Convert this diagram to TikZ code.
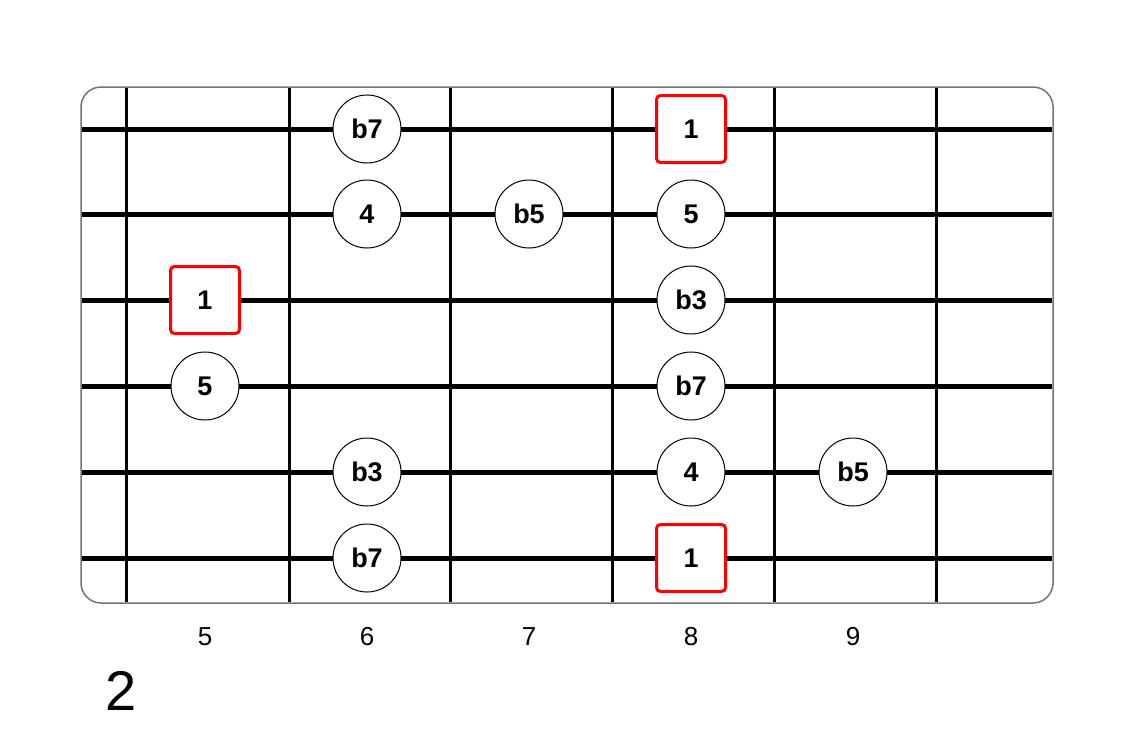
\documentclass[tikz,border=0pt]{standalone}
\usepackage{fontspec}
\setmainfont{Liberation Sans}
\usepackage{tikz}
\usetikzlibrary{positioning,calc}

\begin{document}
\begin{tikzpicture}[x=1pt,y=-1pt,
        board/.style={draw=black!55, line width=1.5pt, rounded corners=20pt},
        fretline/.style={draw=black, line width=3pt},
        stringline/.style={draw=black, line width=5pt},
        note/.style={circle, draw=black, line width=1pt, fill=white, minimum size=68pt, inner sep=0pt, font=\fontsize{27}{30}\selectfont\bfseries},
        root/.style={rectangle, draw=red, line width=3pt, fill=white, rounded corners=4pt, minimum width=69pt, minimum height=67pt, inner sep=0pt, font=\fontsize{27}{30}\selectfont\bfseries},
        fretnum/.style={font=\fontsize{26}{30}\selectfont},
        position/.style={font=\fontsize{56}{60}\selectfont}
    ]
    \useasboundingbox (0,0) rectangle (1132,732);

    % Griffbrett
    \draw[board] (81,87) rectangle (1053,603);
    \foreach \x in {126,289,450,612,774,936}
        \draw[fretline] (\x,88) -- (\x,602);
    \foreach \y in {129,214,300,386,472,558}
        \draw[stringline] (82,\y) -- (1052,\y);

    % Töne
    \node[note] (s1f6) at (367,129) {b7};
    \node[root] (s1f8) at (691,129) {1};
    \node[note] (s2f6) at (367,214) {4};
    \node[note] (s2f7) at (529,214) {b5};
    \node[note] (s2f8) at (691,214) {5};
    \node[root] (s3f5) at (205,300) {1};
    \node[note] (s3f8) at (691,300) {b3};
    \node[note] (s4f5) at (205,386) {5};
    \node[note] (s4f8) at (691,386) {b7};
    \node[note] (s5f6) at (367,472) {b3};
    \node[note] (s5f8) at (691,472) {4};
    \node[note] (s5f9) at (853,472) {b5};
    \node[note] (s6f6) at (367,558) {b7};
    \node[root] (s6f8) at (691,558) {1};

    % Bundnummern
    \node[fretnum] (fret5) at (205,637) {5};
    \node[fretnum] (fret6) at (367,637) {6};
    \node[fretnum] (fret7) at (529,637) {7};
    \node[fretnum] (fret8) at (691,637) {8};
    \node[fretnum] (fret9) at (853,637) {9};

    % Lage
    \node[position] (pos) at (121,691) {2};

\end{tikzpicture}
\end{document}
